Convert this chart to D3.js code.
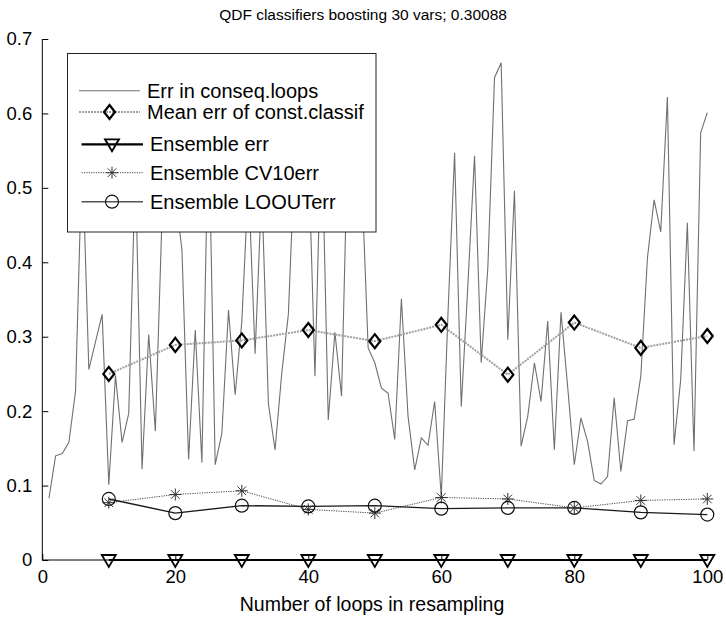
<!DOCTYPE html>
<html><head><meta charset="utf-8">
<script src="https://cdn.jsdelivr.net/npm/d3@7"></script>
<style>body{margin:0;background:#fff}svg{display:block}text{font-family:"Liberation Sans",Arial,sans-serif;fill:#000}</style>
</head><body>
<svg id="c" width="726" height="617"></svg>
<script>
const title = "QDF classifiers boosting 30 vars; 0.30088";
const xLabel = "Number of loops in resampling";
const xTicks = [0, 20, 40, 60, 80, 100];
const yTicks = [0, 0.1, 0.2, 0.3, 0.4, 0.5, 0.6, 0.7];
const legendLabels = ["Err in conseq.loops", "Mean err of const.classif", "Ensemble err", "Ensemble CV10err", "Ensemble LOOUTerr"];
const errLoops = [0.083,0.140,0.143,0.158,0.227,0.55,0.256,0.293,0.330,0.101,
0.248,0.158,0.197,0.53,0.122,0.303,0.173,0.46,0.55,0.49,
0.417,0.135,0.309,0.131,0.60,0.128,0.170,0.336,0.222,0.32,
0.51,0.277,0.50,0.21,0.148,0.25,0.33,0.55,0.50,0.56,
0.247,0.59,0.188,0.306,0.220,0.59,0.50,0.52,0.285,0.265,
0.231,0.224,0.162,0.351,0.193,0.121,0.164,0.154,0.213,0.085,
0.33,0.547,0.206,0.37,0.543,0.265,0.393,0.648,0.668,0.296,
0.496,0.153,0.193,0.265,0.213,0.321,0.148,0.333,0.233,0.128,
0.191,0.159,0.107,0.102,0.112,0.218,0.119,0.187,0.189,0.247,
0.406,0.484,0.441,0.622,0.155,0.242,0.453,0.146,0.574,0.601];
const loops = d3.range(1, 101);
const ensX = [10, 20, 30, 40, 50, 60, 70, 80, 90, 100];
const meanErr = [0.250, 0.289, 0.295, 0.309, 0.294, 0.316, 0.249, 0.319, 0.285, 0.301];
const ensErr = [0, 0, 0, 0, 0, 0, 0, 0, 0, 0];
const cv10Err = [0.077, 0.088, 0.093, 0.068, 0.063, 0.084, 0.082, 0.070, 0.080, 0.082];
const looErr = [0.082, 0.063, 0.073, 0.072, 0.073, 0.069, 0.070, 0.070, 0.064, 0.061];

const svg = d3.select("#c");
const x = d3.scaleLinear().domain([0, 100]).range([42.3, 707.3]);
const y = d3.scaleLinear().domain([0, 0.7]).range([560, 39]);

svg.append("text").attr("x", 363).attr("y", 20).attr("text-anchor", "middle")
  .style("font-size", "15.5px").text(title);

const line = d3.line();

svg.append("path").attr("d", line(loops.map((d, i) => [x(d), y(errLoops[i])])))
  .attr("fill", "none").attr("stroke", "#707070").attr("stroke-width", 1.1);

svg.append("path").attr("d", line(ensX.map((d, i) => [x(d), y(meanErr[i])])))
  .attr("fill", "none").attr("stroke", "#a0a0a0").attr("stroke-width", 2).attr("stroke-dasharray", "2,1");

svg.append("path").attr("d", line(ensX.map((d, i) => [x(d), y(cv10Err[i])])))
  .attr("fill", "none").attr("stroke", "#444").attr("stroke-width", 1).attr("stroke-dasharray", "1.2,1.2");
svg.append("path").attr("d", line(ensX.map((d, i) => [x(d), y(looErr[i])])))
  .attr("fill", "none").attr("stroke", "#1a1a1a").attr("stroke-width", 1.4);
svg.append("path").attr("d", line(ensX.map((d, i) => [x(d), y(ensErr[i])])))
  .attr("fill", "none").attr("stroke", "#000").attr("stroke-width", 2.2);

function diamond(g, cx, cy) {
  g.append("path").attr("d", `M${cx},${cy-7}L${cx+5.5},${cy}L${cx},${cy+7}L${cx-5.5},${cy}Z`)
    .attr("fill", "none").attr("stroke", "#000").attr("stroke-width", 2.2);
}
function tri(g, cx, cy) {
  g.append("path").attr("d", `M${cx-7},${cy-5}L${cx+7},${cy-5}L${cx},${cy+7}Z`)
    .attr("fill", "none").attr("stroke", "#000").attr("stroke-width", 1.8);
}
function star(g, cx, cy) {
  const r = 6, q = 4.3;
  g.append("path").attr("d", `M${cx-r},${cy}L${cx+r},${cy}M${cx},${cy-r}L${cx},${cy+r}M${cx-q},${cy-q}L${cx+q},${cy+q}M${cx-q},${cy+q}L${cx+q},${cy-q}`)
    .attr("fill", "none").attr("stroke", "#333").attr("stroke-width", 1);
}
function circ(g, cx, cy) {
  g.append("circle").attr("cx", cx).attr("cy", cy).attr("r", 6.5)
    .attr("fill", "none").attr("stroke", "#111").attr("stroke-width", 1.2);
}

const mk = svg.append("g");
ensX.forEach((d, i) => diamond(mk, x(d), y(meanErr[i])));
ensX.forEach((d, i) => star(mk, x(d), y(cv10Err[i])));
ensX.forEach((d, i) => circ(mk, x(d), y(looErr[i])));

const xAxis = d3.axisBottom(x).tickValues(xTicks).tickSize(-6).tickPadding(10).tickFormat(d3.format("d"));
const gx = svg.append("g").attr("transform", "translate(0,560)").call(xAxis);
gx.select(".domain").attr("d", `M${x(0)},0H${x(100)}`).attr("stroke", "#000");
gx.selectAll("text").style("font-size", "18.5px").attr("font-family", null);

const yAxis = d3.axisLeft(y).tickValues(yTicks).tickSize(-6).tickPadding(10)
  .tickFormat(d => d === 0 ? "0" : d3.format(".1f")(d));
const gy = svg.append("g").attr("transform", `translate(${x(0)},0)`).call(yAxis);
gy.select(".domain").attr("d", `M0,${y(0.7)}V${y(0)}`).attr("stroke", "#000");
gy.selectAll("text").style("font-size", "18.5px").attr("font-family", null);

ensX.forEach((d, i) => tri(mk.append("g"), x(d), y(ensErr[i])));
svg.node().appendChild(mk.node());

svg.append("text").attr("x", 372).attr("y", 611).attr("text-anchor", "middle")
  .style("font-size", "19.5px").text(xLabel);

const lg = svg.append("g");
lg.append("rect").attr("x", 67.5).attr("y", 53.5).attr("width", 308.5).attr("height", 178.5)
  .attr("fill", "#fff").attr("stroke", "#222").attr("stroke-width", 1);
const rowsY = [90.7, 112, 144.3, 172.7, 201.7];
const textX = [147, 147, 150, 150, 150];
lg.append("line").attr("x1", 79).attr("x2", 140).attr("y1", rowsY[0]).attr("y2", rowsY[0]).attr("stroke", "#707070").attr("stroke-width", 1.1);
lg.append("line").attr("x1", 79).attr("x2", 140).attr("y1", rowsY[1]).attr("y2", rowsY[1]).attr("stroke", "#a0a0a0").attr("stroke-width", 2).attr("stroke-dasharray", "2,1");
diamond(lg, 109.5, rowsY[1]);
lg.append("line").attr("x1", 81.5).attr("x2", 143).attr("y1", rowsY[2]).attr("y2", rowsY[2]).attr("stroke", "#000").attr("stroke-width", 2.2);
tri(lg, 112, rowsY[2]);
lg.append("line").attr("x1", 81.5).attr("x2", 143).attr("y1", rowsY[3]).attr("y2", rowsY[3]).attr("stroke", "#444").attr("stroke-width", 1).attr("stroke-dasharray", "1.2,1.2");
star(lg, 112, rowsY[3]);
lg.append("line").attr("x1", 81.5).attr("x2", 143).attr("y1", rowsY[4]).attr("y2", rowsY[4]).attr("stroke", "#555").attr("stroke-width", 1.4);
circ(lg, 112, rowsY[4]);
legendLabels.forEach((t, i) => {
  lg.append("text").attr("x", textX[i]).attr("y", rowsY[i]).attr("dominant-baseline", "central")
    .style("font-size", "20px").text(t);
});
</script>
</body></html>
